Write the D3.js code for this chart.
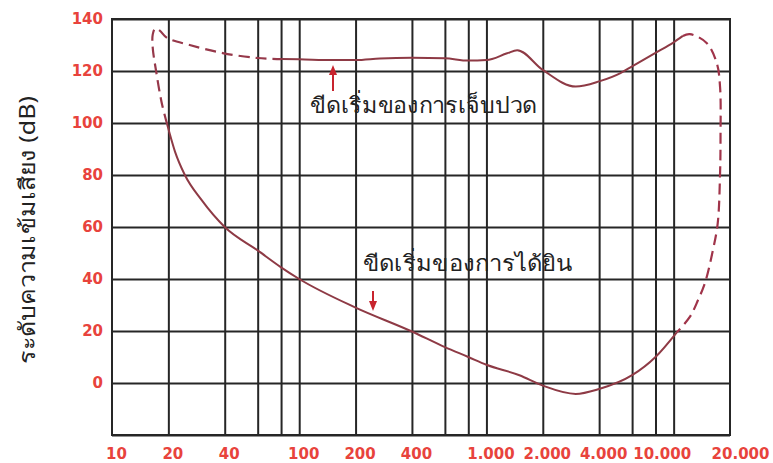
<!DOCTYPE html>
<html>
<head>
<meta charset="utf-8">
<script src="https://cdn.jsdelivr.net/npm/d3@7"></script>
<style>
  body { margin: 0; background: #fff; }
  svg { display: block; }
</style>
</head>
<body>
<div id="chart"></div>
<script>
// frequency (Hz) gridlines and labels
var gridFreqs = [20, 40, 60, 80, 100, 200, 400, 600, 800, 1000, 2000, 4000, 6000, 8000, 10000]
var labelFreqs = [10, 20, 40, 100, 200, 400, 1000, 2000, 4000, 10000, 20000]
var labelTexts = ['10', '20', '40', '100', '200', '400', '1.000', '2.000', '4.000', '10.000', '20.000']
var dbTicks = [0, 20, 40, 60, 80, 100, 120, 140]

// threshold of hearing (solid)  [Hz, dB]
var hearing = [
  [19.7, 99.5], [21.7, 89], [24.5, 80], [30, 70.5], [40, 60], [60, 51], [80, 44.5],
  [100, 40], [200, 29], [400, 19.8], [600, 13.8], [800, 10], [1000, 7], [1500, 3],
  [2000, -1], [3000, -4.2], [4000, -2.3], [6000, 3], [8000, 10], [10400, 19.5]
]
// threshold of pain (solid)
var pain = [
  [80, 124.6], [100, 124.5], [150, 124.2], [200, 124.2], [270, 124.8], [400, 125.1],
  [600, 124.9], [800, 124], [1000, 124.2], [1290, 126.8], [1460, 128], [2000, 120.4],
  [3000, 114], [4000, 116], [5200, 119.2], [6000, 121.8], [8000, 127], [10000, 131],
  [11200, 133.5]
]
// dashed connectors
var lowEnd = [
  [19.7, 99.5], [18.4, 108], [17.2, 120], [16.5, 129], [16.5, 134], [17, 136.3],
  [18, 135.5], [19.7, 132.7], [26, 130], [39, 126.9], [60, 125], [80, 124.6]
]
var highEnd = [
  [11200, 133.5], [12200, 134.2], [15000, 130.8], [17000, 123], [17700, 113.8],
  [17800, 95], [17700, 80.8], [17200, 61.5], [16200, 51], [14700, 38.5],
  [13500, 31.9], [12200, 25.4], [10400, 19.5]
]

var W = 773, H = 463
var m = { left: 112, right: 730, top: 19, bottom: 435 }

var svg = d3.select('#chart').append('svg').attr('width', W).attr('height', H)
svg.append('rect').attr('width', W).attr('height', H).attr('fill', '#fff')

var x = d3.scaleLog().domain([10, 20000]).range([m.left, m.right])
var y = d3.scaleLinear().domain([-20, 140]).range([m.bottom, m.top])

var gridColor = '#262626'

// vertical grid
svg.append('g')
  .attr('transform', 'translate(0,' + m.bottom + ')')
  .call(d3.axisBottom(x).tickValues(gridFreqs).tickSize(-(m.bottom - m.top)).tickFormat(''))
  .call(function(g) {
    g.select('.domain').remove()
    g.selectAll('line').attr('stroke', gridColor).attr('stroke-width', 2)
  })

// horizontal grid
svg.append('g')
  .attr('transform', 'translate(' + m.left + ',0)')
  .call(d3.axisLeft(y).tickValues([-20].concat(dbTicks)).tickSize(-(m.right - m.left)).tickFormat(''))
  .call(function(g) {
    g.select('.domain').remove()
    g.selectAll('line').attr('stroke', gridColor).attr('stroke-width', 2)
  })

// border
svg.append('rect')
  .attr('x', m.left).attr('y', m.top)
  .attr('width', m.right - m.left).attr('height', m.bottom - m.top)
  .attr('fill', 'none').attr('stroke', gridColor).attr('stroke-width', 2)

var labelColor = '#e8433c'
var labelFont = '"DejaVu Sans", Verdana, sans-serif'

// x labels
var xShift = { '10.000': -12, '20.000': 10 }
svg.append('g')
  .attr('transform', 'translate(0,' + (m.bottom + 13) + ')')
  .call(d3.axisBottom(x).tickValues(labelFreqs).tickSize(0).tickPadding(0)
    .tickFormat(function(d, i) { return labelTexts[i] }))
  .call(function(g) {
    g.select('.domain').remove()
    g.selectAll('text')
      .attr('fill', labelColor)
      .attr('font-family', labelFont)
      .attr('font-weight', 'bold')
      .attr('font-size', 15)
      .attr('dx', function(d, i) { return xShift[labelTexts[i]] != null ? xShift[labelTexts[i]] : 4 })
  })

// y labels
svg.append('g')
  .attr('transform', 'translate(' + m.left + ',0)')
  .call(d3.axisLeft(y).tickValues(dbTicks).tickSize(0).tickPadding(9))
  .call(function(g) {
    g.select('.domain').remove()
    g.selectAll('text')
      .attr('fill', labelColor)
      .attr('font-family', labelFont)
      .attr('font-weight', 'bold')
      .attr('font-size', 15)
  })

var thaiFont = 'Tahoma, "Noto Sans", sans-serif'

// y title
svg.append('text')
  .attr('transform', 'translate(35,230) rotate(-90)')
  .attr('text-anchor', 'middle')
  .attr('font-family', thaiFont)
  .attr('font-size', 22)
  .attr('fill', '#222')
  .attr('textLength', 268)
  .attr('lengthAdjust', 'spacingAndGlyphs')
  .text('ระดับความเข้มเสียง (dB)')

// curves
var smooth = d3.line()
  .curve(d3.curveMonotoneX)
  .x(function(d) { return x(d[0]) })
  .y(function(d) { return y(d[1]) })
var loop = d3.line()
  .curve(d3.curveCatmullRom.alpha(0.5))
  .x(function(d) { return x(d[0]) })
  .y(function(d) { return y(d[1]) })

var curveColor = '#8e3a45'

svg.append('path').attr('d', smooth(hearing))
  .attr('fill', 'none').attr('stroke', curveColor).attr('stroke-width', 2)
svg.append('path').attr('d', smooth(pain))
  .attr('fill', 'none').attr('stroke', curveColor).attr('stroke-width', 2)
svg.append('path').attr('d', loop(lowEnd))
  .attr('fill', 'none').attr('stroke', '#96384a').attr('stroke-width', 2.2)
  .attr('stroke-dasharray', '11,6')
svg.append('path').attr('d', loop(highEnd))
  .attr('fill', 'none').attr('stroke', '#a0344a').attr('stroke-width', 2.2)
  .attr('stroke-dasharray', '11,6')

// annotations
var arrowColor = '#c8242e'
function arrow(x0, yTail, yTip) {
  var dir = yTip < yTail ? 1 : -1
  svg.append('line')
    .attr('x1', x0).attr('x2', x0).attr('y1', yTail).attr('y2', yTip + dir * 6)
    .attr('stroke', arrowColor).attr('stroke-width', 2)
  svg.append('path')
    .attr('d', 'M' + (x0 - 4) + ',' + (yTip + dir * 10) + 'L' + x0 + ',' + yTip + 'L' + (x0 + 4) + ',' + (yTip + dir * 10) + 'Z')
    .attr('fill', arrowColor)
}
arrow(333, 91, 65)
arrow(373, 291, 311)

svg.append('text')
  .attr('x', 310).attr('y', 113)
  .attr('font-family', thaiFont)
  .attr('font-size', 22)
  .attr('fill', '#222')
  .attr('textLength', 227)
  .attr('lengthAdjust', 'spacingAndGlyphs')
  .text('ขีดเริ่มของการเจ็บปวด')

svg.append('text')
  .attr('x', 363).attr('y', 271)
  .attr('font-family', thaiFont)
  .attr('font-size', 22)
  .attr('fill', '#222')
  .attr('textLength', 209)
  .attr('lengthAdjust', 'spacingAndGlyphs')
  .text('ขีดเริ่มของการได้ยิน')
</script>
</body>
</html>
